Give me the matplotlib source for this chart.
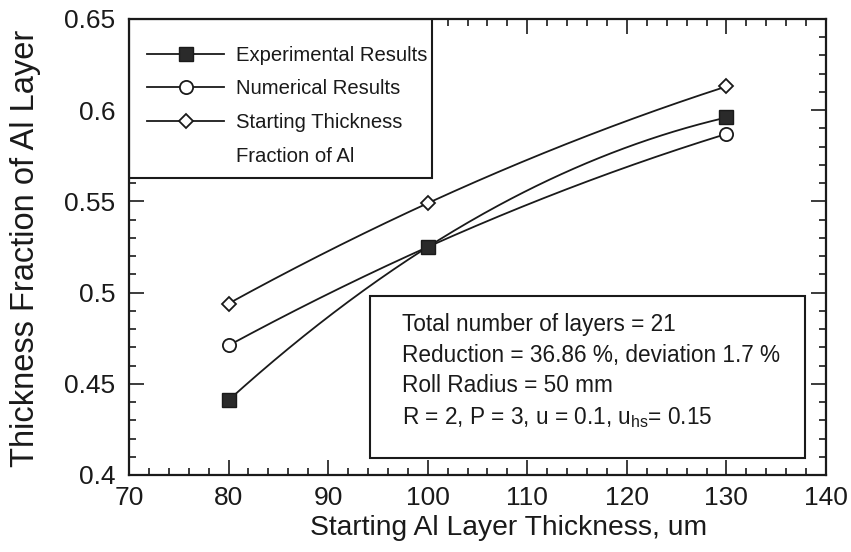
import numpy as np
import matplotlib
matplotlib.use("Agg")
import matplotlib.pyplot as plt
from matplotlib.lines import Line2D
from matplotlib.patches import Rectangle

plt.rcParams['font.family'] = ['Liberation Sans', 'DejaVu Sans']
plt.rcParams['mathtext.fontset'] = 'custom'
plt.rcParams['mathtext.rm'] = 'Liberation Sans'
plt.rcParams['mathtext.it'] = 'Liberation Sans'

# Data
thickness = [80, 100, 130]
experimental = [0.441, 0.525, 0.596]
numerical = [0.471, 0.525, 0.587]
starting_fraction = [0.494, 0.549, 0.613]

x_ticks = [70, 80, 90, 100, 110, 120, 130, 140]
y_ticks = [0.4, 0.45, 0.5, 0.55, 0.6, 0.65]
y_tick_labels = ["0.4", "0.45", "0.5", "0.55", "0.6", "0.65"]

legend_labels = ["Experimental Results", "Numerical Results",
                 "Starting Thickness", "Fraction of Al"]

info_lines = [
    "Total number of layers = 21",
    "Reduction = 36.86 %, deviation 1.7 %",
    "Roll Radius = 50 mm",
    r"R = 2, P = 3, u = 0.1, u$_{\mathrm{hs}}$= 0.15",
]

INK = '#1a1a1a'

fig = plt.figure(figsize=(8.51, 5.52), dpi=100)
ax = fig.add_axes([0.1516, 0.1395, 0.8190, 0.8261])


def smooth(xs, ys):
    # quadratic through the three points gives a smooth connecting curve
    c = np.polyfit(xs, ys, 2)
    xx = np.linspace(min(xs), max(xs), 200)
    return xx, np.polyval(c, xx)


lw = 1.3
for ys in (experimental, numerical, starting_fraction):
    xx, yy = smooth(thickness, ys)
    ax.plot(xx, yy, color=INK, lw=lw, zorder=2)

sq_style = dict(marker='s', ms=10, mfc='#2a2a2a', mec=INK, mew=1.0)
ci_style = dict(marker='o', ms=9.5, mfc='white', mec=INK, mew=1.3)
di_style = dict(marker='D', ms=7, mfc='white', mec=INK, mew=1.3)

ax.plot(thickness, starting_fraction, ls='none', zorder=3, **di_style)
ax.plot(thickness, numerical, ls='none', zorder=3, **ci_style)
ax.plot(thickness, experimental, ls='none', zorder=3, **sq_style)

leg_handles = [
    Line2D([], [], color=INK, lw=lw, **sq_style),
    Line2D([], [], color=INK, lw=lw, **ci_style),
    Line2D([], [], color=INK, lw=lw, **di_style),
    Line2D([], [], color='none', lw=0),
]
leg_fs = 14.6
leg = ax.legend(leg_handles, legend_labels, loc='upper left',
                bbox_to_anchor=(0, 0.981), borderaxespad=0, frameon=False,
                fontsize=leg_fs, handlelength=3.8, handletextpad=0.6,
                labelspacing=0.72, borderpad=0.89)
for t in leg.get_texts():
    t.set_color(INK)
# legend frame, tight on the right like the original layout
ax.add_patch(Rectangle((0, 0.651), 0.4347, 0.349, transform=ax.transAxes,
                       facecolor='white', edgecolor=INK, lw=1.5, zorder=4))
leg.set_zorder(5)

ax.set_xlim(70, 140)
ax.set_ylim(0.4, 0.65)
ax.set_xticks(x_ticks)
ax.set_xticklabels([str(v) for v in x_ticks])
ax.set_yticks(y_ticks)
ax.set_yticklabels(y_tick_labels)
ax.set_xticks(np.arange(70, 141, 2), minor=True)
ax.set_yticks(np.arange(0.40, 0.651, 0.01), minor=True)
ax.tick_params(which='both', direction='in', top=True, right=True, width=1.2,
               colors=INK, labelcolor=INK)
ax.tick_params(which='major', length=10.5, labelsize=19)
ax.tick_params(axis='x', which='major', pad=8)
ax.tick_params(axis='y', which='major', pad=10)
ax.tick_params(which='minor', length=5)
for s in ax.spines.values():
    s.set_linewidth(1.6)
    s.set_color(INK)
    s.set_zorder(6)

ax.set_xlabel("Starting Al Layer Thickness, um", fontsize=20.3, color=INK, va='top')
ax.xaxis.set_label_coords(0.544, -0.088)
ax.set_ylabel("Thickness Fraction of Al Layer", fontsize=23.5, color=INK)
ax.yaxis.set_label_coords(-0.126, 0.496)

# parameter box
ax.add_patch(Rectangle((0.3458, 0.037), 0.6245, 0.3555, transform=ax.transAxes,
                       fill=True, facecolor='white', edgecolor=INK, lw=1.5, zorder=4))
y_pos = [0.329, 0.263, 0.197, 0.125]
for txt, yp in zip(info_lines, y_pos):
    ax.text(0.392, yp, txt, transform=ax.transAxes, fontsize=16.3, color=INK,
            va='center', ha='left', zorder=5)

fig.savefig("out.png", dpi=100)
